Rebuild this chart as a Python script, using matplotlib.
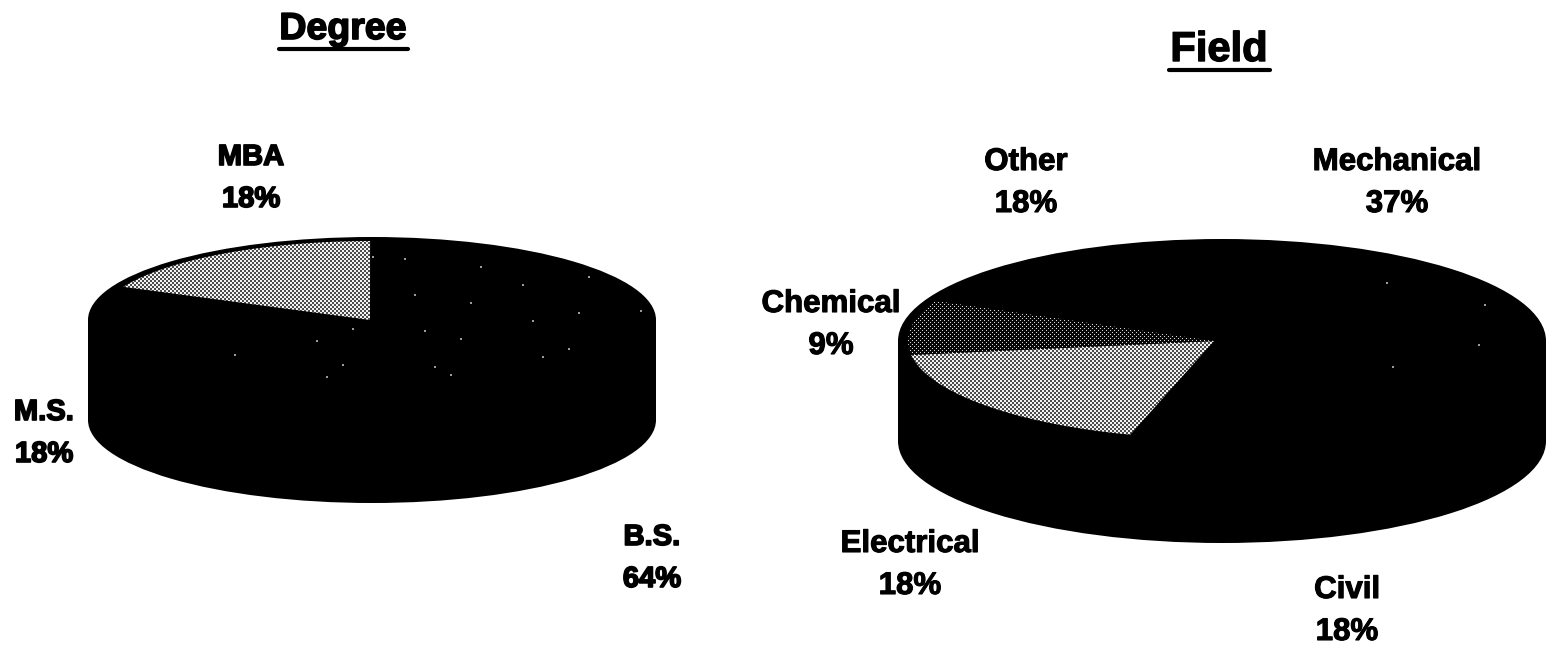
import numpy as np
import matplotlib
matplotlib.use('Agg')
import matplotlib.pyplot as plt
import matplotlib.patheffects as pe
from matplotlib.patches import Ellipse, Polygon, Rectangle

plt.rcParams['font.family'] = ['Liberation Sans', 'DejaVu Sans']

degree_labels = ['B.S.', 'M.S.', 'MBA']
degree_values = [64, 18, 18]
degree_fills = ['sparse', 'black', 'light']

field_labels = ['Mechanical', 'Civil', 'Electrical', 'Chemical', 'Other']
field_values = [37, 18, 18, 9, 18]
field_fills = ['faint', 'black', 'light', 'dark', 'black']

W, H = 1549, 658
fig = plt.figure(figsize=(W / 100, H / 100), dpi=100)
ax = fig.add_axes([0, 0, 1, 1])
ax.set_xlim(0, W)
ax.set_ylim(H, 0)
ax.axis('off')


def dither(kind):
    # halftone screens, one texture pixel per figure pixel
    yy, xx = np.mgrid[0:H, 0:W]
    if kind == 'light':
        on = (xx // 2 + yy // 2) % 2 == 0
        return np.where(on, 0.95, 0.3)
    if kind == 'dark':
        on = ((xx + yy) % 4 == 0) & ((xx - yy) % 4 == 0)
        return np.where(on, 0.85, 0.03)
    # scattered specks, the rest of the slice stays black
    modulus = 997 if kind == 'sparse' else 4999
    on = ((xx // 2) ** 2 + 3 * (yy // 2) ** 2) % modulus == 0
    return np.where(on, 0.6, 0.0)


def wedge_points(apex, cx, cy, rx, ry, a0, a1):
    # angles run clockwise from 12 o'clock, squashed onto the ellipse
    t = np.radians(np.linspace(a0, a1, 80))
    x = cx + (rx - 10) * np.sin(t)
    y = cy - (ry - 4) * np.cos(t)
    return np.vstack([apex, np.column_stack([x, y])])


def draw_pie(values, fills, cx, cy, rx, ry, depth, apex_x, start=0):
    # black body first: lower rim, side wall, then the top face
    ax.add_patch(Ellipse((cx, cy + depth), 2 * rx, 2 * ry, color='black', lw=0))
    ax.add_patch(Rectangle((cx - rx, cy), 2 * rx, depth, color='black', lw=0))
    ax.add_patch(Ellipse((cx, cy), 2 * rx, 2 * ry, color='black', lw=0))

    angles = start + np.cumsum([0] + list(values)) * 3.6
    for a0, a1, kind in zip(angles[:-1], angles[1:], fills):
        if kind == 'black':
            continue
        pts = wedge_points([apex_x, cy], cx, cy, rx, ry, a0, a1)
        clip = Polygon(pts, closed=True, transform=ax.transData, fc='none', ec='none')
        ax.add_patch(clip)
        img = ax.imshow(dither(kind), cmap='gray', vmin=0, vmax=1, zorder=3,
                        extent=(0, W, H, 0), interpolation='nearest', aspect='auto')
        img.set_clip_path(clip)


def heavy_text(x, y, s, size, stroke=1.2, **kw):
    ax.text(x, y, s, fontsize=size, fontweight='bold', color='black',
            ha='center', va='center', zorder=5,
            path_effects=[pe.withStroke(linewidth=stroke, foreground='black')], **kw)


draw_pie(degree_values, degree_fills, 372, 320, 284, 83, 100, apex_x=370, start=-0.4)
draw_pie(field_values, field_fills, 1222, 341, 324, 102, 100, apex_x=1214, start=-1)

# titles with a hand drawn underline
heavy_text(343, 29, 'Degree', 27)
ax.plot([279, 408], [49, 49], color='black', lw=3, solid_capstyle='round')
heavy_text(1219, 50, 'Field', 30, stroke=1.0)
ax.plot([1169, 1270], [70, 70], color='black', lw=3, solid_capstyle='round')

# slice labels, name over percentage
degree_pos = [(652, 558), (44, 433), (251, 178)]
for lab, val, (x, y) in zip(degree_labels, degree_values, degree_pos):
    heavy_text(x, y - 21, lab, 21)
    heavy_text(x, y + 21, f'{val}%', 21)

field_pos = [(1397, 183), (1347, 611), (910, 565), (831, 325), (1026, 183)]
for lab, val, (x, y) in zip(field_labels, field_values, field_pos):
    heavy_text(x, y - 21, lab, 22.5, stroke=0.8)
    heavy_text(x, y + 21, f'{val}%', 22.5, stroke=0.8)

ax.set_xlim(0, W)
ax.set_ylim(H, 0)
fig.savefig('out.png', dpi=100, facecolor='white')
